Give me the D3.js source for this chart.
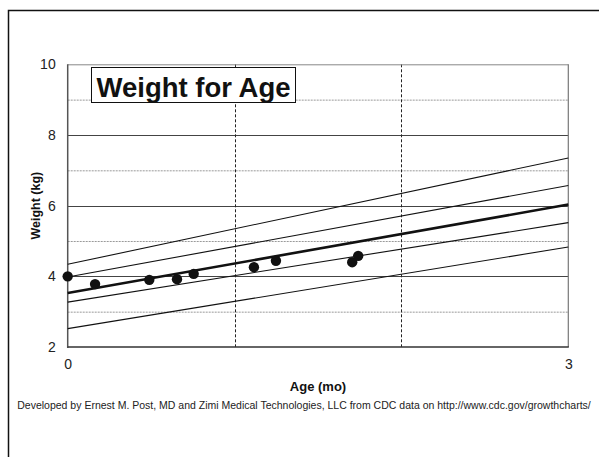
<!DOCTYPE html>
<html>
<head>
<meta charset="utf-8">
<script src="https://cdn.jsdelivr.net/npm/d3@7"></script>
<style>
  html, body { margin: 0; padding: 0; background: #fff; }
  svg { display: block; font-family: "Liberation Sans", Arial, sans-serif; }
</style>
</head>
<body>
<svg id="chart" width="599" height="457"></svg>
<script>
// ---- Data ----
const title = "Weight for Age";
const xLabel = "Age (mo)";
const yLabel = "Weight (kg)";
const footer = "Developed by Ernest M. Post, MD and Zimi Medical Technologies, LLC from CDC data on http://www.cdc.gov/growthcharts/";

const xTicks = [0, 3];
const yTicks = [2, 4, 6, 8, 10];
const yMajorGrid = [4, 6, 8];
const yMinorGrid = [3, 5, 7, 9];
const xGrid = [1, 2];

// percentile reference lines (age in months -> weight kg)
const curveAges = [0, 3];
const p95 = [4.34, 7.35];
const p75 = [3.98, 6.57];
const p50 = [3.53, 6.03];
const p25 = [3.27, 5.52];
const p5  = [2.52, 4.83];

// patient measurements
const ages    = [0, 0.164, 0.489, 0.655, 0.755, 1.116, 1.248, 1.705, 1.741];
const weights = [4.00, 3.78, 3.90, 3.92, 4.07, 4.26, 4.44, 4.40, 4.58];

// ---- Layout ----
const svg = d3.select("#chart");
const L = 67.7, R = 568.3, T = 64.3, B = 347;

const x = d3.scaleLinear().domain([0, 3]).range([L, R]);
const y = d3.scaleLinear().domain([2, 10]).range([B, T]);

// outer frame (extends past the window on right/bottom)
svg.append("rect")
  .attr("x", 8.5).attr("y", 10.5).attr("width", 800).attr("height", 800)
  .attr("fill", "none").attr("stroke", "#111").attr("stroke-width", 1.5);

// horizontal minor (dashed gray) grid
svg.append("g").selectAll("line").data(yMinorGrid).join("line")
  .attr("x1", L).attr("x2", R)
  .attr("y1", d => y(d) + 0.5).attr("y2", d => y(d) + 0.5)
  .attr("stroke", "#999").attr("stroke-width", 1).attr("stroke-dasharray", "2,1");

// horizontal major grid
svg.append("g").selectAll("line").data(yMajorGrid).join("line")
  .attr("x1", L).attr("x2", R)
  .attr("y1", d => Math.round(y(d)) + 0.5).attr("y2", d => Math.round(y(d)) + 0.5)
  .attr("stroke", "#444").attr("stroke-width", 1);

// vertical dashed grid
svg.append("g").selectAll("line").data(xGrid).join("line")
  .attr("x1", d => Math.round(x(d)) + 0.5).attr("x2", d => Math.round(x(d)) + 0.5)
  .attr("y1", T).attr("y2", B)
  .attr("stroke", "#222").attr("stroke-width", 1).attr("stroke-dasharray", "3,2");

// plot border: top & right gray, left & bottom darker
svg.append("line").attr("x1", L).attr("x2", R).attr("y1", y(10) + 0.5).attr("y2", y(10) + 0.5)
  .attr("stroke", "#888").attr("stroke-width", 1);
svg.append("line").attr("x1", x(3)).attr("x2", x(3)).attr("y1", T).attr("y2", B)
  .attr("stroke", "#777").attr("stroke-width", 1.2);
svg.append("line").attr("x1", x(0)).attr("x2", x(0)).attr("y1", T).attr("y2", B + 1)
  .attr("stroke", "#555").attr("stroke-width", 1.5);
svg.append("line").attr("x1", x(0)).attr("x2", x(3) + 0.5).attr("y1", B).attr("y2", B)
  .attr("stroke", "#333").attr("stroke-width", 1.5);

// percentile lines
const line = d3.line().x(d => x(d[0])).y(d => y(d[1]));
const curves = [
  { v: p95, w: 1.1 }, { v: p75, w: 1.1 }, { v: p50, w: 2.6 },
  { v: p25, w: 1.1 }, { v: p5, w: 1.1 }
];
svg.append("g").selectAll("path").data(curves).join("path")
  .attr("d", c => line(curveAges.map((a, i) => [a, c.v[i]])))
  .attr("fill", "none").attr("stroke", "#111").attr("stroke-width", c => c.w);

// data points
svg.append("g").selectAll("circle").data(ages.map((a, i) => [a, weights[i]])).join("circle")
  .attr("cx", d => x(d[0])).attr("cy", d => y(d[1])).attr("r", 5.2)
  .attr("fill", "#111");

// axes (labels only)
const yAxis = d3.axisLeft(y).tickValues(yTicks).tickSize(0).tickPadding(12).tickFormat(d3.format("d"));
const gy = svg.append("g").attr("transform", `translate(${L},0)`).call(yAxis);
gy.select(".domain").remove();
gy.selectAll("text").attr("font-size", 14).attr("font-family", "Liberation Sans, Arial, sans-serif").attr("fill", "#222");

const xAxis = d3.axisBottom(x).tickValues(xTicks).tickSize(0).tickPadding(12).tickFormat(d3.format("d"));
const gx = svg.append("g").attr("transform", `translate(0,${B})`).call(xAxis);
gx.select(".domain").remove();
gx.selectAll("text").attr("font-size", 14).attr("font-family", "Liberation Sans, Arial, sans-serif").attr("fill", "#222");

// title box
const titleG = svg.append("g");
titleG.append("rect").attr("x", 91.5).attr("y", 67.5).attr("width", 204).attr("height", 35)
  .attr("fill", "#fff").attr("stroke", "#111").attr("stroke-width", 1);
titleG.append("text").attr("x", 193.5).attr("y", 96.5).attr("text-anchor", "middle")
  .attr("font-size", 27.5).attr("font-weight", "bold").attr("fill", "#111").text(title);

// axis titles
svg.append("text").attr("x", 318).attr("y", 391).attr("text-anchor", "middle")
  .attr("font-size", 13).attr("font-weight", "bold").attr("fill", "#111").text(xLabel);
svg.append("text").attr("transform", `translate(39.5,${(T + B) / 2}) rotate(-90)`)
  .attr("text-anchor", "middle").attr("font-size", 12.5).attr("font-weight", "bold").attr("fill", "#111").text(yLabel);

// footer
svg.append("text").attr("x", 304).attr("y", 409).attr("text-anchor", "middle")
  .attr("font-size", 10.5).attr("fill", "#222").text(footer);
</script>
</body>
</html>
